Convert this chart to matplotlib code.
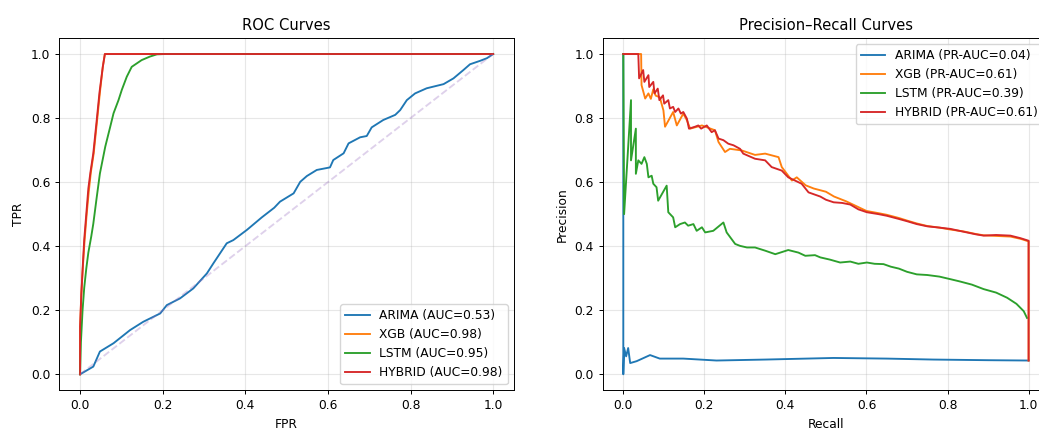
import numpy as np
import matplotlib
matplotlib.use('Agg')
import matplotlib.pyplot as plt

# ROC curves (FPR, TPR)
arima_fpr = [0.0, 0.032, 0.048, 0.081, 0.121, 0.153, 0.194, 0.21, 0.242, 0.274, 0.307,
             0.323, 0.355, 0.371, 0.404, 0.44, 0.47, 0.484, 0.517, 0.533, 0.549, 0.573,
             0.605, 0.613, 0.638, 0.65, 0.678, 0.694, 0.706, 0.734, 0.763, 0.775, 0.791,
             0.811, 0.839, 0.88, 0.904, 0.928, 0.944, 0.969, 0.985, 1.0]
arima_tpr = [0.0, 0.024, 0.071, 0.097, 0.138, 0.164, 0.19, 0.216, 0.237, 0.268, 0.315,
             0.347, 0.409, 0.419, 0.451, 0.49, 0.52, 0.539, 0.565, 0.601, 0.619, 0.638,
             0.646, 0.669, 0.69, 0.721, 0.74, 0.744, 0.771, 0.794, 0.81, 0.825, 0.856,
             0.877, 0.893, 0.906, 0.924, 0.95, 0.968, 0.979, 0.987, 1.0]

xgb_fpr = [0.0, 0.0, 0.003, 0.007, 0.011, 0.016, 0.021, 0.026, 0.033, 0.041, 0.048, 0.055, 0.06, 1.0]
xgb_tpr = [0.0, 0.14, 0.25, 0.34, 0.42, 0.5, 0.57, 0.63, 0.69, 0.79, 0.88, 0.96, 1.0, 1.0]

lstm_fpr = [0.0, 0.002, 0.006, 0.01, 0.015, 0.02, 0.027, 0.032, 0.04, 0.048, 0.061, 0.073,
            0.081, 0.093, 0.101, 0.113, 0.125, 0.149, 0.169, 0.186, 0.206, 1.0]
lstm_tpr = [0.0, 0.1, 0.2, 0.27, 0.33, 0.38, 0.43, 0.47, 0.55, 0.627, 0.711, 0.773,
            0.815, 0.856, 0.888, 0.929, 0.96, 0.981, 0.992, 0.999, 1.0, 1.0]

hybrid_fpr = [0.0, 0.0, 0.003, 0.007, 0.01, 0.015, 0.02, 0.025, 0.032, 0.04, 0.047, 0.055, 0.06, 1.0]
hybrid_tpr = [0.0, 0.15, 0.25, 0.35, 0.42, 0.5, 0.58, 0.63, 0.69, 0.79, 0.88, 0.96, 1.0, 1.0]

roc_auc = {'ARIMA': 0.53, 'XGB': 0.98, 'LSTM': 0.95, 'HYBRID': 0.98}

# Precision-Recall curves (recall, precision)
arima_rec = [0.0, 0.0, 0.002, 0.007, 0.012, 0.017, 0.033, 0.066, 0.09, 0.148, 0.23, 0.35,
             0.519, 0.65, 0.765, 0.9, 1.0]
arima_prec = [1.0, 0.0, 0.082, 0.056, 0.082, 0.035, 0.041, 0.06, 0.049, 0.049, 0.043, 0.046,
              0.051, 0.049, 0.046, 0.044, 0.043]

xgb_rec = [0.0, 0.044, 0.045, 0.054, 0.062, 0.068, 0.074, 0.08, 0.09, 0.099, 0.103, 0.123,
           0.132, 0.148, 0.157, 0.165, 0.194, 0.226, 0.235, 0.251, 0.263, 0.292, 0.325,
           0.35, 0.383, 0.391, 0.416, 0.428, 0.45, 0.47, 0.5, 0.52, 0.55, 0.6, 0.63,
           0.65, 0.68, 0.7, 0.724, 0.75, 0.78, 0.807, 0.84, 0.87, 0.889, 0.92, 0.955,
           0.98, 1.0, 1.0]
xgb_prec = [1.0, 1.0, 0.903, 0.861, 0.877, 0.86, 0.89, 0.87, 0.865, 0.824, 0.773, 0.819,
            0.777, 0.814, 0.793, 0.767, 0.777, 0.762, 0.725, 0.694, 0.704, 0.699, 0.685,
            0.689, 0.678, 0.647, 0.605, 0.615, 0.59, 0.58, 0.57, 0.555, 0.54, 0.51, 0.503,
            0.498, 0.488, 0.48, 0.471, 0.463, 0.458, 0.452, 0.446, 0.438, 0.434, 0.432,
            0.43, 0.423, 0.415, 0.043]

hybrid_rec = [0.0, 0.037, 0.039, 0.049, 0.052, 0.062, 0.064, 0.074, 0.077, 0.085, 0.089,
              0.098, 0.101, 0.111, 0.115, 0.123, 0.128, 0.136, 0.142, 0.148, 0.157, 0.162,
              0.177, 0.185, 0.192, 0.206, 0.218, 0.226, 0.235, 0.247, 0.259, 0.272, 0.288,
              0.296, 0.325, 0.35, 0.366, 0.391, 0.407, 0.44, 0.457, 0.486, 0.5, 0.519,
              0.54, 0.56, 0.58, 0.601, 0.63, 0.65, 0.68, 0.7, 0.724, 0.75, 0.78, 0.807,
              0.84, 0.87, 0.889, 0.92, 0.955, 0.98, 1.0, 1.0]
hybrid_prec = [1.0, 1.0, 0.924, 0.95, 0.913, 0.934, 0.897, 0.913, 0.877, 0.892, 0.856,
               0.871, 0.845, 0.856, 0.83, 0.835, 0.819, 0.83, 0.814, 0.819, 0.798, 0.767,
               0.773, 0.777, 0.767, 0.777, 0.756, 0.762, 0.736, 0.731, 0.72, 0.715, 0.704,
               0.689, 0.673, 0.668, 0.647, 0.636, 0.615, 0.595, 0.568, 0.555, 0.545, 0.537,
               0.535, 0.53, 0.515, 0.506, 0.5, 0.495, 0.485, 0.478, 0.469, 0.462, 0.458,
               0.454, 0.445, 0.437, 0.433, 0.435, 0.433, 0.425, 0.417, 0.043]

lstm_rec = [0.0, 0.002, 0.019, 0.019, 0.031, 0.031, 0.037, 0.045, 0.052, 0.058, 0.062, 0.07,
            0.074, 0.082, 0.086, 0.107, 0.111, 0.123, 0.128, 0.14, 0.152, 0.16, 0.173,
            0.181, 0.194, 0.202, 0.222, 0.247, 0.255, 0.276, 0.288, 0.305, 0.325, 0.35,
            0.375, 0.407, 0.432, 0.449, 0.473, 0.486, 0.51, 0.535, 0.56, 0.58, 0.601,
            0.62, 0.642, 0.66, 0.68, 0.7, 0.724, 0.75, 0.78, 0.807, 0.83, 0.86, 0.889,
            0.92, 0.947, 0.97, 0.988, 0.996]
lstm_prec = [1.0, 0.5, 0.856, 0.668, 0.767, 0.626, 0.668, 0.657, 0.678, 0.657, 0.615, 0.62,
             0.595, 0.584, 0.542, 0.589, 0.506, 0.49, 0.459, 0.469, 0.474, 0.464, 0.469,
             0.448, 0.459, 0.443, 0.448, 0.474, 0.443, 0.407, 0.401, 0.396, 0.396, 0.386,
             0.375, 0.388, 0.38, 0.37, 0.372, 0.365, 0.358, 0.349, 0.352, 0.345, 0.349,
             0.345, 0.344, 0.336, 0.33, 0.32, 0.312, 0.31, 0.305, 0.297, 0.29, 0.28,
             0.266, 0.255, 0.239, 0.22, 0.197, 0.176]

pr_auc = {'ARIMA': 0.04, 'XGB': 0.61, 'LSTM': 0.39, 'HYBRID': 0.61}

models = ['ARIMA', 'XGB', 'LSTM', 'HYBRID']
roc_data = {'ARIMA': (arima_fpr, arima_tpr), 'XGB': (xgb_fpr, xgb_tpr),
            'LSTM': (lstm_fpr, lstm_tpr), 'HYBRID': (hybrid_fpr, hybrid_tpr)}
pr_data = {'ARIMA': (arima_rec, arima_prec), 'XGB': (xgb_rec, xgb_prec),
           'LSTM': (lstm_rec, lstm_prec), 'HYBRID': (hybrid_rec, hybrid_prec)}

fs = 8.8
lw = 1.35
fig = plt.figure(figsize=(10.39, 4.29), dpi=100)
ax1 = fig.add_axes([0.0572, 0.0902, 0.4373, 0.8212])
ax2 = fig.add_axes([0.5804, 0.0902, 0.4291, 0.8212])

for m in models:
    x, y = roc_data[m]
    ax1.plot(x, y, linewidth=lw, label=f'{m} (AUC={roc_auc[m]:.2f})')
ax1.plot([0, 1], [0, 1], linestyle='--', linewidth=lw, alpha=0.3)
ax1.set_title('ROC Curves', fontsize=10.6)
ax1.set_xlabel('FPR', fontsize=fs)
ax1.set_ylabel('TPR', fontsize=fs)
ax1.legend(loc='lower right', fontsize=fs)

for m in models:
    x, y = pr_data[m]
    ax2.plot(x, y, linewidth=lw, label=f'{m} (PR-AUC={pr_auc[m]:.2f})')
ax2.set_title('Precision\u2013Recall Curves', fontsize=10.6)
ax2.set_xlabel('Recall', fontsize=fs)
ax2.set_ylabel('Precision', fontsize=fs)
ax2.legend(loc='upper right', fontsize=fs)

for ax in (ax1, ax2):
    ax.grid(True, alpha=0.3)
    ax.tick_params(labelsize=fs, width=0.7, length=3)
    for s in ax.spines.values():
        s.set_linewidth(0.7)

fig.savefig('out.png', dpi=100)
